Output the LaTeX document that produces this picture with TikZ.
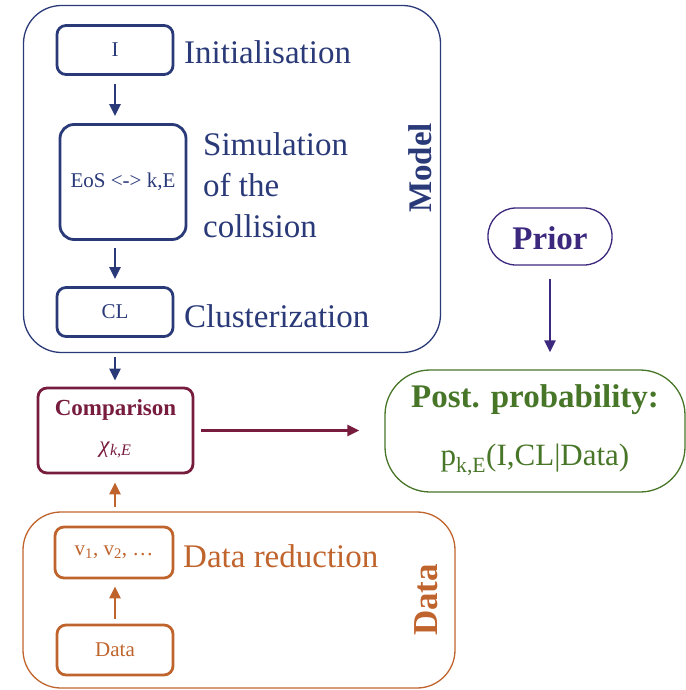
\documentclass[tikz,border=0pt]{standalone}
\usepackage{fontspec}
\setmainfont{Liberation Serif}
\usetikzlibrary{arrows.meta}
\definecolor{navy}{RGB}{42,58,120}
\definecolor{maroon}{RGB}{120,28,62}
\definecolor{orng}{RGB}{192,100,45}
\definecolor{purp}{RGB}{60,40,125}
\definecolor{grn}{RGB}{72,118,40}
\tikzset{
  box/.style={draw, line width=2.8pt, rounded corners=9pt, inner sep=0pt},
  outer/.style={draw, line width=1.3pt, inner sep=0pt},
  arr/.style={-{Triangle[length=12pt,width=11pt]}, line width=2.4pt},
  lbl/.style={anchor=west, inner sep=0pt, font=\fontsize{33}{37}\selectfont},
  small/.style={font=\fontsize{21}{24}\selectfont},
}
\begin{document}
\begin{tikzpicture}[x=1pt,y=-1pt]
\useasboundingbox (0,0) rectangle (685,690);
% Model
\node[outer, navy, rounded corners=38pt, minimum width=417pt, minimum height=347pt] (model) at (232,179) {};
\node[box, navy, small, minimum width=116pt, minimum height=49pt] (I) at (115,50) {I};
\node[lbl, text=navy] (initl) at (184,52) {Initialisation};
\node[box, navy, small, rounded corners=14pt, minimum width=126pt, minimum height=115pt] (eos) at (123,182) {EoS <-> k,E};
\node[lbl, text=navy, align=left, font=\fontsize{33}{41}\selectfont] (siml) at (203,185) {Simulation\\of the\\collision};
\node[box, navy, small, minimum width=116pt, minimum height=49pt] (CL) at (115,312) {CL};
\node[lbl, text=navy] (clusl) at (184,316) {Clusterization};
\node[text=navy, rotate=90, font=\bfseries\fontsize{33}{36}\selectfont] (modell) at (420,168) {Model};
\draw[arr, navy, shorten <=8pt, shorten >=7pt] (I.south) -- (I.south |- eos.north);
\draw[arr, navy, shorten <=7pt, shorten >=7pt] (eos.south -| I.south) -- (CL.north);
% Comparison
\node[box, maroon, minimum width=155pt, minimum height=85pt] (comp) at (115.5,430.5) {};
\node[text=maroon, font=\bfseries\fontsize{23}{26}\selectfont] (compl) at (115.5,410) {Comparison};
\node[text=maroon, font=\fontsize{23}{26}\selectfont] (chil) at (115.5,450) {\textit{χ}\textsubscript{\textit{k,E}}};
\draw[arr, navy, shorten <=4pt, shorten >=6pt] (model.south -| CL.south) -- (comp.north -| CL.south);
% Data
\node[outer, orng, rounded corners=38pt, minimum width=432pt, minimum height=176pt] (data) at (239,600) {};
\node[box, orng, small, minimum width=118pt, minimum height=51pt] (v) at (114,552.5) {v\textsubscript{1}, v\textsubscript{2}, \dots};
\node[lbl, text=orng] (redl) at (183,556) {Data reduction};
\node[box, orng, small, minimum width=116pt, minimum height=50pt] (dat) at (115,650) {Data};
\node[text=orng, rotate=90, font=\bfseries\fontsize{35}{38}\selectfont] (datal) at (426,600) {Data};
\draw[arr, orng, shorten <=5pt, shorten >=7pt] (dat.north -| CL.south) -- (v.south -| CL.south);
\draw[arr, orng, shorten <=4pt, shorten >=8pt] (data.north -| CL.south) -- (comp.south -| CL.south);
% Prior / Posterior
\node[outer, purp, rounded corners=28pt, minimum width=124pt, minimum height=57pt] (prior) at (550,236.5) {};
\node[text=purp, font=\bfseries\fontsize{33}{36}\selectfont] (priorl) at (550,238) {Prior};
\node[outer, grn, rounded corners=45pt, minimum width=300pt, minimum height=122pt] (post) at (535,431) {};
\node[text=grn, font=\bfseries\fontsize{33}{36}\selectfont] (postl) at (535,400) {Post. probability:};
\node[text=grn, font=\fontsize{31}{34}\selectfont] (pl) at (535,460) {p\textsubscript{k,E}(I,CL|Data)};
\draw[arr, purp, shorten <=13pt, shorten >=17pt] (prior.south) -- (post.north -| prior.south);
\draw[arr, maroon, shorten <=7pt, shorten >=25pt] (comp.east) -- (post.west |- comp.east);
\end{tikzpicture}
\end{document}
